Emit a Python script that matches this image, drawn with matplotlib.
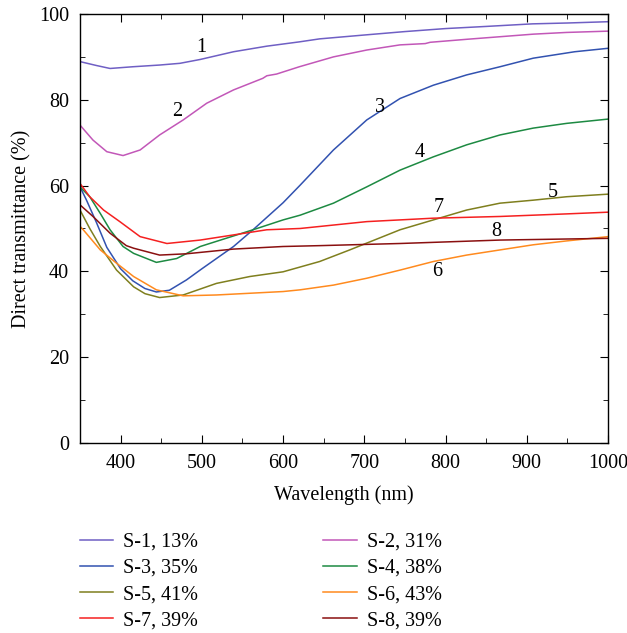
import matplotlib
matplotlib.use("Agg")
from matplotlib import pyplot as plt
from matplotlib.ticker import MultipleLocator

plt.rcParams['font.family'] = ['Liberation Serif', 'DejaVu Serif']

# sample labels
names = ['S-1, 13%', 'S-2, 31%', 'S-3, 35%', 'S-4, 38%',
         'S-5, 41%', 'S-6, 43%', 'S-7, 39%', 'S-8, 39%']
colors = ['#6f5fc4', '#c257b8', '#3252b0', '#1d8a42',
          '#7f7f1e', '#ff8a1e', '#f52020', '#8a1010']

# spectra: wavelength (nm), transmittance (%)
wl1 = [350, 370, 387, 415, 448, 473, 498, 539, 580, 620, 645, 700, 750, 800, 850, 907, 950, 1000]
t1 = [88.9, 88.0, 87.3, 87.7, 88.1, 88.5, 89.4, 91.2, 92.5, 93.5, 94.2, 95.1, 95.9, 96.6, 97.1, 97.7, 97.9, 98.2]

wl2 = [350, 366, 383, 403, 424, 448, 477, 506, 539, 575, 580, 592, 620, 662, 703, 744, 775, 781, 826, 867, 908, 949, 1000]
t2 = [74.1, 70.6, 67.9, 67.0, 68.3, 71.8, 75.3, 79.2, 82.3, 85.0, 85.6, 86.0, 87.7, 90.0, 91.6, 92.8, 93.1, 93.4, 94.1, 94.7, 95.3, 95.7, 96.0]

wl3 = [350, 358, 370, 383, 400, 415, 430, 444, 460, 481, 500, 539, 563, 600, 621, 662, 703, 744, 785, 826, 867, 908, 959, 1000]
t3 = [59.7, 56.6, 51.5, 45.6, 40.6, 37.8, 36.0, 35.2, 35.6, 38.0, 40.6, 45.8, 49.7, 56.0, 60.1, 68.3, 75.3, 80.3, 83.4, 85.8, 87.7, 89.7, 91.2, 92.0]

wl4 = [350, 362, 375, 387, 403, 416, 444, 469, 498, 563, 600, 621, 662, 703, 744, 785, 826, 867, 908, 949, 1000]
t4 = [59.7, 57.4, 53.5, 49.7, 45.8, 44.2, 42.1, 43.0, 45.8, 49.7, 52.0, 53.1, 55.9, 59.7, 63.6, 66.7, 69.5, 71.8, 73.4, 74.5, 75.5]

wl5 = [350, 362, 375, 395, 416, 430, 448, 477, 518, 559, 600, 645, 682, 744, 785, 826, 867, 908, 949, 1000]
t5 = [54.3, 50.0, 45.8, 40.3, 36.4, 34.8, 33.9, 34.5, 37.2, 38.8, 39.9, 42.3, 45.0, 49.7, 52.0, 54.3, 55.9, 56.6, 57.4, 58.0]

wl6 = [350, 354, 375, 395, 416, 444, 477, 518, 600, 621, 662, 703, 744, 785, 826, 867, 908, 949, 1000]
t6 = [50.5, 49.7, 45.0, 41.9, 38.8, 35.7, 34.3, 34.5, 35.3, 35.7, 36.8, 38.4, 40.3, 42.3, 43.8, 45.0, 46.2, 47.1, 48.1]

wl7 = [350, 362, 379, 399, 424, 457, 498, 539, 580, 621, 703, 785, 867, 949, 1000]
t7 = [60.5, 57.4, 54.3, 51.6, 48.1, 46.5, 47.3, 48.5, 49.7, 50.0, 51.6, 52.4, 52.8, 53.4, 53.8]

wl8 = [350, 366, 387, 407, 416, 448, 481, 539, 600, 645, 744, 867, 1000]
t8 = [55.5, 52.8, 48.9, 46.0, 45.4, 43.8, 44.1, 45.2, 45.8, 46.0, 46.5, 47.3, 47.7]

waves = [wl1, wl2, wl3, wl4, wl5, wl6, wl7, wl8]
trans = [t1, t2, t3, t4, t5, t6, t7, t8]

# curve number labels (wavelength, transmittance)
lab_text = ['1', '2', '3', '4', '5', '6', '7', '8']
lab_x = [499, 470, 719, 768, 932, 790, 791, 862]
lab_y = [92.1, 77.2, 78.3, 67.6, 58.5, 39.9, 55.0, 49.2]

fs = 14.5

fig = plt.figure(figsize=(6.27, 6.33), dpi=100)
ax = fig.add_axes([0.1276, 0.3002, 0.8421, 0.6777])

lines = []
for w, t, c, n in zip(waves, trans, colors, names):
    ln, = ax.plot(w, t, color=c, lw=1.1, label=n)
    lines.append(ln)

for s, x, y in zip(lab_text, lab_x, lab_y):
    ax.text(x, y, s, fontsize=fs, ha='center', va='center')

ax.set_xlim(350, 1000)
ax.set_ylim(0, 100)
ax.xaxis.set_major_locator(MultipleLocator(100))
ax.xaxis.set_minor_locator(MultipleLocator(50))
ax.yaxis.set_major_locator(MultipleLocator(20))
ax.yaxis.set_minor_locator(MultipleLocator(10))
ax.tick_params(which='both', direction='in', top=True, right=True, labelsize=fs)
ax.tick_params(which='major', length=6)
ax.tick_params(which='minor', length=3.5)
ax.tick_params(axis='x', which='major', pad=8)
ax.tick_params(axis='y', which='major', pad=8)
for sp in ax.spines.values():
    sp.set_linewidth(1.0)
ax.set_xlabel('Wavelength (nm)', fontsize=fs, va='center')
ax.set_ylabel('Direct transmittance (%)', fontsize=fs, va='center')
ax.xaxis.set_label_coords(0.5, -0.121)
ax.yaxis.set_label_coords(-0.11, 0.5)

# legend in row order, matplotlib fills column-first
order = [0, 2, 4, 6, 1, 3, 5, 7]
fig.legend([lines[i] for i in order], [names[i] for i in order],
           ncol=2, loc='upper left', bbox_to_anchor=(0.099, 0.187),
           frameon=False, fontsize=fs, handlelength=1.65, handletextpad=0.5,
           columnspacing=6.2, labelspacing=0.35)

fig.savefig('out.png', dpi=100)
